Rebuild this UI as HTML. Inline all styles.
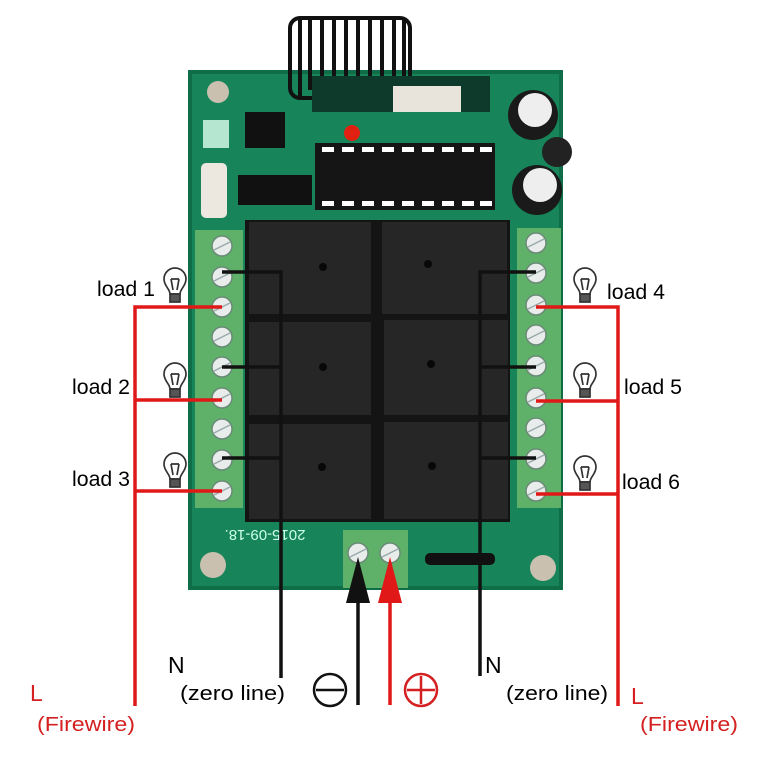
<!DOCTYPE html>
<html><head><meta charset="utf-8"><style>
html,body{margin:0;padding:0;background:#fff;}
svg{display:block;}
text{font-family:"Liberation Sans",Arial,sans-serif;}
</style></head><body>
<svg width="768" height="768" viewBox="0 0 768 768" xmlns="http://www.w3.org/2000/svg">
<defs>
<g id="scr"><circle r="10" fill="#e8ecea" stroke="#6a8a78" stroke-width="1.5"/><line x1="-8" y1="4" x2="8" y2="-4" stroke="#9aa" stroke-width="1.5"/></g>
<g id="bulb" fill="none" stroke="#333" stroke-width="1.7"><path d="M-5,9 C-5,4 -11,1 -11,-6 A11,11 0 1 1 11,-6 C11,1 5,4 5,9 Z" fill="#fff"/><path d="M-4,-6 L-2,5 M4,-6 L2,5 M-4,-6 L4,-6"/><rect x="-5" y="9" width="10" height="8" fill="#555"/></g>
</defs>
<rect x="188" y="70" width="375" height="520" fill="#0f6e48"/>
<rect x="192" y="74" width="367" height="512" fill="#17845a"/>
<g fill="none" stroke="#111" stroke-width="4">
<rect x="290" y="18" width="120" height="80" rx="10"/>
<path d="M300,18 V98 M310,18 V90 M322,18 V90 M334,18 V90 M346,18 V90 M358,18 V90 M370,18 V90 M382,18 V90 M394,18 V90 M404,18 V80"/>
</g>
<rect x="312" y="76" width="178" height="36" fill="#0d3a2a"/>
<rect x="393" y="86" width="68" height="26" fill="#e8e4dc"/>
<circle cx="218" cy="92" r="11" fill="#c9c0b0"/>
<circle cx="213" cy="565" r="13" fill="#c9c0b0"/>
<circle cx="543" cy="568" r="13" fill="#c9c0b0"/>
<rect x="245" y="112" width="40" height="36" fill="#111"/>
<rect x="203" y="120" width="26" height="28" fill="#dfe" opacity=".8"/>
<circle cx="352" cy="133" r="8" fill="#e02010"/>
<rect x="238" y="175" width="74" height="30" fill="#111"/>
<rect x="315" y="143" width="180" height="67" fill="#151515"/>
<g fill="#fff"><rect x="322" y="147" width="12" height="5"/><rect x="342" y="147" width="12" height="5"/><rect x="362" y="147" width="12" height="5"/><rect x="382" y="147" width="12" height="5"/><rect x="402" y="147" width="12" height="5"/><rect x="422" y="147" width="12" height="5"/><rect x="442" y="147" width="12" height="5"/><rect x="462" y="147" width="12" height="5"/><rect x="480" y="147" width="12" height="5"/>
<rect x="322" y="201" width="12" height="5"/><rect x="342" y="201" width="12" height="5"/><rect x="362" y="201" width="12" height="5"/><rect x="382" y="201" width="12" height="5"/><rect x="402" y="201" width="12" height="5"/><rect x="422" y="201" width="12" height="5"/><rect x="442" y="201" width="12" height="5"/><rect x="462" y="201" width="12" height="5"/><rect x="480" y="201" width="12" height="5"/></g>
<rect x="201" y="163" width="26" height="55" rx="5" fill="#ece8e0"/>
<circle cx="533" cy="115" r="25" fill="#1a1a1a"/><circle cx="535" cy="110" r="17" fill="#eee"/>
<circle cx="557" cy="152" r="15" fill="#222"/>
<circle cx="537" cy="190" r="25" fill="#1a1a1a"/><circle cx="540" cy="185" r="17" fill="#eee"/>
<rect x="245" y="220" width="265" height="302" fill="#141414"/>
<g fill="#262626"><rect x="249" y="222" width="122" height="92"/><rect x="382" y="222" width="125" height="92"/><rect x="249" y="322" width="122" height="93"/><rect x="384" y="320" width="124" height="95"/><rect x="249" y="424" width="122" height="95"/><rect x="384" y="422" width="124" height="97"/></g>
<g fill="#080808"><circle cx="323" cy="267" r="4"/><circle cx="428" cy="264" r="4"/><circle cx="323" cy="367" r="4"/><circle cx="431" cy="364" r="4"/><circle cx="322" cy="467" r="4"/><circle cx="432" cy="466" r="4"/></g>
<rect x="195" y="230" width="48" height="278" fill="#5fb068"/>
<rect x="517" y="228" width="44" height="280" fill="#5fb068"/>
<g>
<use href="#scr" x="222" y="246"/><use href="#scr" x="222" y="277"/><use href="#scr" x="222" y="307"/><use href="#scr" x="222" y="337"/><use href="#scr" x="222" y="367"/><use href="#scr" x="222" y="398"/><use href="#scr" x="222" y="429"/><use href="#scr" x="222" y="460"/><use href="#scr" x="222" y="491"/>
<use href="#scr" x="536" y="243"/><use href="#scr" x="536" y="273"/><use href="#scr" x="536" y="305"/><use href="#scr" x="536" y="335"/><use href="#scr" x="536" y="366"/><use href="#scr" x="536" y="398"/><use href="#scr" x="536" y="428"/><use href="#scr" x="536" y="459"/><use href="#scr" x="536" y="491"/>
</g>
<text x="265" y="540" font-size="15" fill="#cfe" transform="rotate(180 265 535)" text-anchor="middle">2015-09-18.</text>
<rect x="425" y="553" width="70" height="12" rx="5" fill="#111"/>
<rect x="343" y="530" width="65" height="58" fill="#5fb068"/>
<use href="#scr" x="358" y="553"/><use href="#scr" x="390" y="553"/>
<g stroke="#111" stroke-width="3.5" fill="none">
<path d="M222,272 H281 V678 M222,367 H281 M222,458 H281"/>
<path d="M536,272 H480 V676 M536,367 H480 M536,458 H480"/>
<path d="M358,590 V705"/>
</g>
<g stroke="#e01818" stroke-width="3.5" fill="none">
<path d="M222,307 H135 V706 M222,400 H135 M222,491 H135"/>
<path d="M536,307 H618 V706 M536,401 H618 M536,494 H618"/>
<path d="M390,590 V705"/>
</g>
<polygon points="358,557 346,603 370,603" fill="#111"/>
<polygon points="390,557 378,603 402,603" fill="#e01818"/>
<use href="#bulb" x="175" y="285"/><use href="#bulb" x="175" y="380"/><use href="#bulb" x="175" y="470"/>
<use href="#bulb" x="585" y="285"/><use href="#bulb" x="585" y="380"/><use href="#bulb" x="585" y="473"/>
<g font-size="21" fill="#000" transform="scale(1,1)">
<text x="97" y="296" textLength="58" lengthAdjust="spacingAndGlyphs">load 1</text>
<text x="72" y="394" textLength="58" lengthAdjust="spacingAndGlyphs">load 2</text>
<text x="72" y="486" textLength="58" lengthAdjust="spacingAndGlyphs">load 3</text>
<text x="607" y="299" textLength="58" lengthAdjust="spacingAndGlyphs">load 4</text>
<text x="624" y="394" textLength="58" lengthAdjust="spacingAndGlyphs">load 5</text>
<text x="622" y="489" textLength="58" lengthAdjust="spacingAndGlyphs">load 6</text>
<text x="168" y="673" font-size="23">N</text>
<text x="485" y="673" font-size="23">N</text>
<text x="180" y="700" font-size="20" textLength="105" lengthAdjust="spacingAndGlyphs">(zero line)</text>
<text x="506" y="700" font-size="20" textLength="102" lengthAdjust="spacingAndGlyphs">(zero line)</text>
</g>
<g fill="#d42020" font-size="20">
<text x="30" y="701" font-size="23">L</text>
<text x="631" y="704" font-size="23">L</text>
<text x="37" y="731" textLength="98" lengthAdjust="spacingAndGlyphs">(Firewire)</text>
<text x="640" y="731" textLength="98" lengthAdjust="spacingAndGlyphs">(Firewire)</text>
</g>
<circle cx="330" cy="690" r="16" fill="none" stroke="#111" stroke-width="2.5"/>
<line x1="316" y1="690" x2="344" y2="690" stroke="#111" stroke-width="2.5"/>
<circle cx="421" cy="690" r="16" fill="none" stroke="#d42020" stroke-width="2.5"/>
<path d="M407,690 H435 M421,676 V704" stroke="#d42020" stroke-width="2.5"/>
</svg>
</body></html>
